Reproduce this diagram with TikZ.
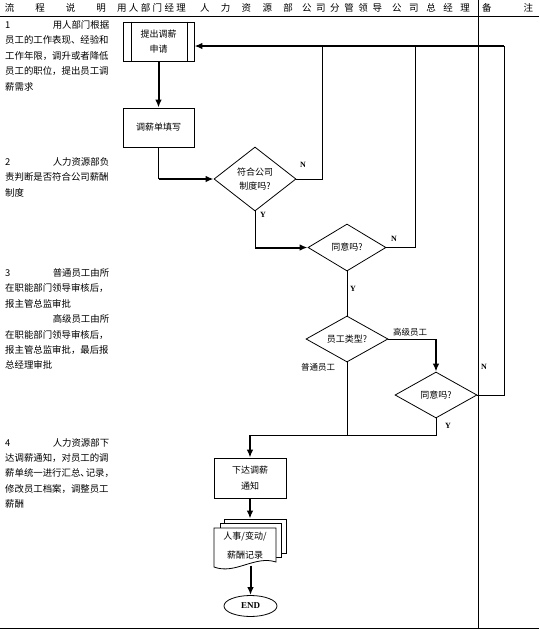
\documentclass[tikz,border=0pt]{standalone}
\usepackage{fontspec}
\setmainfont{Liberation Serif}
\newfontfamily\cjk{Noto Sans CJK SC}
\usetikzlibrary{shapes.geometric,arrows.meta}

\begin{document}
\begin{tikzpicture}[x=1pt, y=-1pt,
    line/.style={line width=0.8pt},
    flow/.style={line width=2pt, -{Latex[length=8pt, width=6.5pt]}},
    box/.style={draw, line width=0.8pt, minimum width=71, minimum height=39, inner sep=0, align=center, font=\cjk\fontsize{9}{15}\selectfont},
    decision/.style={draw, diamond, line width=0.8pt, inner sep=0, align=center, font=\cjk\fontsize{9}{14}\selectfont},
    sheet/.style={draw, line width=0.8pt, fill=white, inner sep=0},
    hdr/.style={inner sep=0, font=\cjk\fontsize{9.5}{10}\selectfont},
    note/.style={anchor=north west, inner sep=0, align=left, font=\cjk\fontsize{9.4}{15.4}\selectfont},
    lbl/.style={inner sep=0, font=\bfseries\fontsize{8}{8}\selectfont},
    cjklbl/.style={inner sep=0, font=\cjk\fontsize{8.5}{9}\selectfont}]

    \useasboundingbox (0,0) rectangle (539,630);

    % table lines
    \draw[line] (0,16) -- (539,16);
    \draw[line] (0,628) -- (539,628);
    \draw[line] (478,0) -- (478,628);

    % header
    \node[hdr] (h1) at (55.5,8) {\makebox[101pt]{流\hfill 程\hfill 说\hfill 明}};
    \node[hdr] (h2) at (151.5,8) {\makebox[69pt]{用\hfill 人\hfill 部\hfill 门\hfill 经\hfill 理}};
    \node[hdr] (h3) at (246.5,8) {\makebox[93pt]{人\hfill 力\hfill 资\hfill 源\hfill 部}};
    \node[hdr] (h4) at (342,8) {\makebox[80pt]{公\hfill 司\hfill 分\hfill 管\hfill 领\hfill 导}};
    \node[hdr] (h5) at (431,8) {\makebox[78pt]{公\hfill 司\hfill 总\hfill 经\hfill 理}};
    \node[hdr] (h6) at (507.5,8) {\makebox[51pt]{备\hfill 注}};

    % notes
    \node[note] (note1) at (5,20.3) {\makebox[104pt][l]{1\hfill 用人部门根据}\\员工的工作表现、经验和\\工作年限，调升或者降低\\员工的职位，提出员工调\\薪需求};
    \node[note] (note2) at (5,157.3) {\makebox[104pt][l]{2\hfill 人力资源部负}\\责判断是否符合公司薪酬\\制度};
    \node[note] (note3) at (5,268.3) {\makebox[104pt][l]{3\hfill 普通员工由所}\\在职能部门领导审核后，\\报主管总监审批\\\makebox[104pt][r]{高级员工由所}\\在职能部门领导审核后，\\报主管总监审批，最后报\\总经理审批};
    \node[note] (note4) at (5,438) {\makebox[104pt][l]{4\hfill 人力资源部下}\\达调薪通知，对员工的调\\薪单统一进行汇总、\kern-4pt 记录，\\修改员工档案，调整员工\\薪酬};

    % flow
    \node[box] (apply) at (158.5,41.5) {提出调薪\\申请};
    \draw[line] ([xshift=9]apply.north west) -- ([xshift=9]apply.south west);
    \draw[line] ([xshift=-7]apply.north east) -- ([xshift=-7]apply.south east);
    \node[box] (fill) at (158.5,127.5) {调薪单填写};
    \node[decision, aspect=1.28, minimum width=82, minimum height=64] (d1) at (255,179) {符合公司\\制度吗?};
    \node[decision, aspect=1.66, minimum width=78, minimum height=47] (d2) at (347,247.5) {同意吗?};
    \node[decision, aspect=1.78, minimum width=82, minimum height=46] (d3) at (347,339) {员工类型?};
    \node[decision, aspect=1.78, minimum width=82, minimum height=46] (d4) at (436,395) {同意吗?};
    \node[box, minimum width=72, minimum height=40] (notify) at (250,478) {下达调薪\\[1pt]通知};

    \node[sheet, minimum width=62, minimum height=34] (rec3) at (255,536) {};
    \node[sheet, minimum width=61, minimum height=34] (rec2) at (250.5,540) {};
    \draw[line, fill=white] (214,567) -- (214,528) -- (276,528) -- (276,562)
        .. controls (255,555) and (235,575) .. cycle;
    \node[inner sep=0, minimum width=62, minimum height=40, align=center, font=\cjk\fontsize{9}{19}\selectfont] (rec) at (245,545.5) {人事/变动/\\薪酬记录};

    \node[draw, ellipse, line width=0.8pt, minimum width=53, minimum height=21, inner sep=0, font=\bfseries\fontsize{9}{9}\selectfont] (end) at (250.5,606) {END};

    % labels
    \node[lbl] (no1) at (303,165) {N};
    \node[lbl] (no2) at (394,239) {N};
    \node[lbl] (no4) at (484,367) {N};
    \node[lbl] (yes1) at (263,215) {Y};
    \node[lbl] (yes2) at (353,289) {Y};
    \node[lbl] (yes4) at (448,426) {Y};
    \node[cjklbl] (senior) at (410,332) {高级员工};
    \node[cjklbl] (normal) at (318,367) {普通员工};

    % connectors
    \coordinate (k1) at (fill.south |- d1.west);
    \coordinate (k2) at (d1.south |- d2.west);
    \coordinate (k3) at (d4.north |- d3.east);
    \coordinate (k4) at (347,435);
    \coordinate (k5) at (d4.south |- k4);
    \coordinate (k6) at (notify.north |- k4);
    \coordinate (k7) at (322,46);
    \coordinate (k8) at (415,46);
    \coordinate (back) at (504,46);

    \draw[flow] (apply.south) -- (fill.north);
    \draw[line] (fill.south) -- (k1);
    \draw[flow] (k1) -- (d1.west);
    \draw[line] (d1.south) -- (k2);
    \draw[flow] (k2) -- (d2.west);
    \draw[line] (d2.south) -- (d3.north);
    \draw[line] (d3.east) -- (k3);
    \draw[flow] (k3) -- (d4.north);
    \draw[line] (d3.south) -- (k4);
    \draw[line] (d4.south) -- (k5) -- (k6);
    \draw[flow] (k6) -- (notify.north);
    \draw[flow] (notify.south) -- (notify.south |- rec3.north);
    \draw[flow] (end.north |- rec.south) -- (end.north);

    \draw[line] (d1.east) -| (k7);
    \draw[line] (d2.east) -| (k8);
    \draw[line] (d4.east) -| (back);
    \draw[flow] (back) -- (back -| apply.east);
\end{tikzpicture}
\end{document}
